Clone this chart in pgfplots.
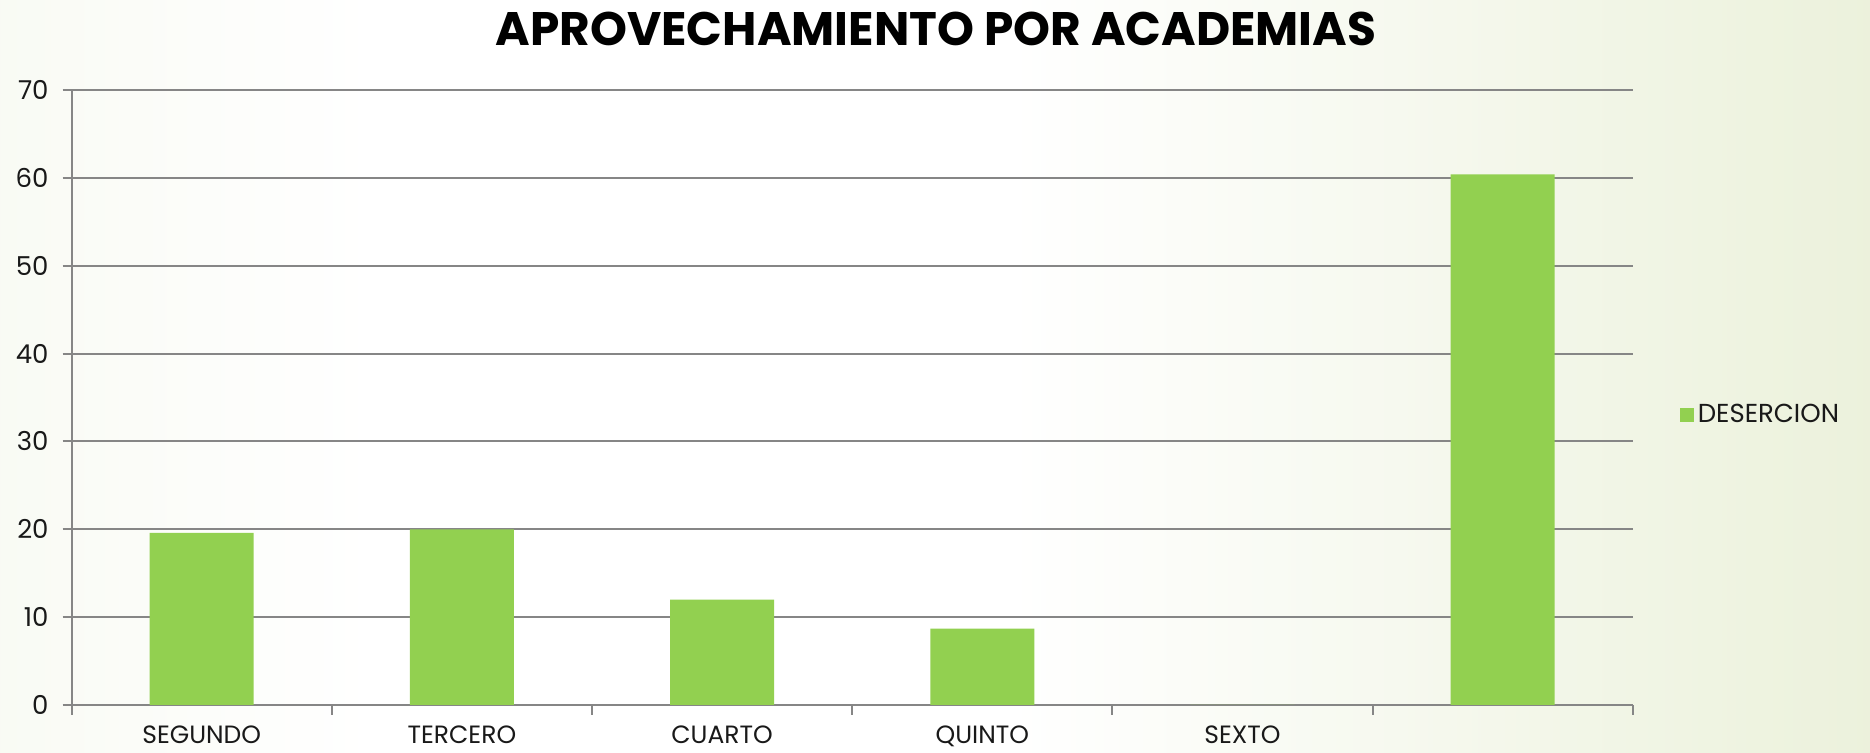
\documentclass[border=0pt]{standalone}
\usepackage{pgfplots}
\pgfplotsset{compat=1.18}
\usepackage{fontspec}
\setmainfont{Poppins}
\definecolor{bargreen}{HTML}{92D050}
\definecolor{gridgray}{HTML}{868686}
\definecolor{bgleft}{HTML}{E6EDD3}
\definecolor{bgright}{HTML}{DAE4BB}
\definecolor{bgmidr}{HTML}{EEF3E0}
\pgfdeclarehorizontalshading{bgshade}{100bp}{color(0bp)=(bgleft); color(15bp)=(white!50!bgleft); color(35bp)=(white); color(52bp)=(white); color(72bp)=(bgmidr); color(100bp)=(bgright)}
\begin{document}
\begin{tikzpicture}
\shade[shading=bgshade] (0pt,0pt) rectangle (935pt,376.5pt);
\useasboundingbox (0pt,0pt) rectangle (935pt,376.5pt);
\begin{axis}[
  at={(35.8pt,24pt)}, anchor=south west,
  scale only axis, width=780.6pt, height=307.5pt,
  ymin=0, ymax=70, ytick={0,10,...,70},
  xmin=-0.5, xmax=5.5,
  xtick={0,1,2,3,4,5},
  xticklabels={SEGUNDO,TERCERO,CUARTO,QUINTO,SEXTO,{}},
  major x tick style={draw=none},
  minor xtick={-0.5,0.5,...,5.5},
  minor x tick style={draw=gridgray, line width=1pt},
  minor tick length=5pt,
  axis lines*=left,
  x axis line style={-, draw=gridgray, line width=1pt},
  y axis line style={-, draw=gridgray, line width=1pt},
  ymajorgrids, grid style={draw=gridgray, line width=1pt},
  major y tick style={draw=gridgray, line width=1pt},
  major tick length=4.5pt,
  tick align=outside,
  yticklabel style={font=\fontsize{13}{15}\selectfont, text=black!90, xshift=-3.5pt},
  xticklabel style={font=\fontsize{12.5}{14}\selectfont, text=black!90, yshift=-2.5pt},
  /pgf/number format/assume math mode=true,
  ybar, bar width=0.4,
  title={APROVECHAMIENTO POR ACADEMIAS},
  title style={at={(0.5537,1.079)}, anchor=center, font=\fontsize{23.5}{26}\selectfont\bfseries, text=black},
  legend style={at={(1.026,0.4715)}, anchor=west, draw=none, fill=none,
    font=\fontsize{13}{15}\selectfont, text=black!90},
  legend image code/.code={\fill[bargreen] (0pt,-3.5pt) rectangle (7pt,3.5pt);},
  clip=false,
]
\addplot[fill=bargreen, draw=none] coordinates {(0,19.6) (1,20.0) (2,12.0) (3,8.7) (4,0) (5,60.4)};
\addlegendentry{DESERCION}
\end{axis}
\end{tikzpicture}
\end{document}
